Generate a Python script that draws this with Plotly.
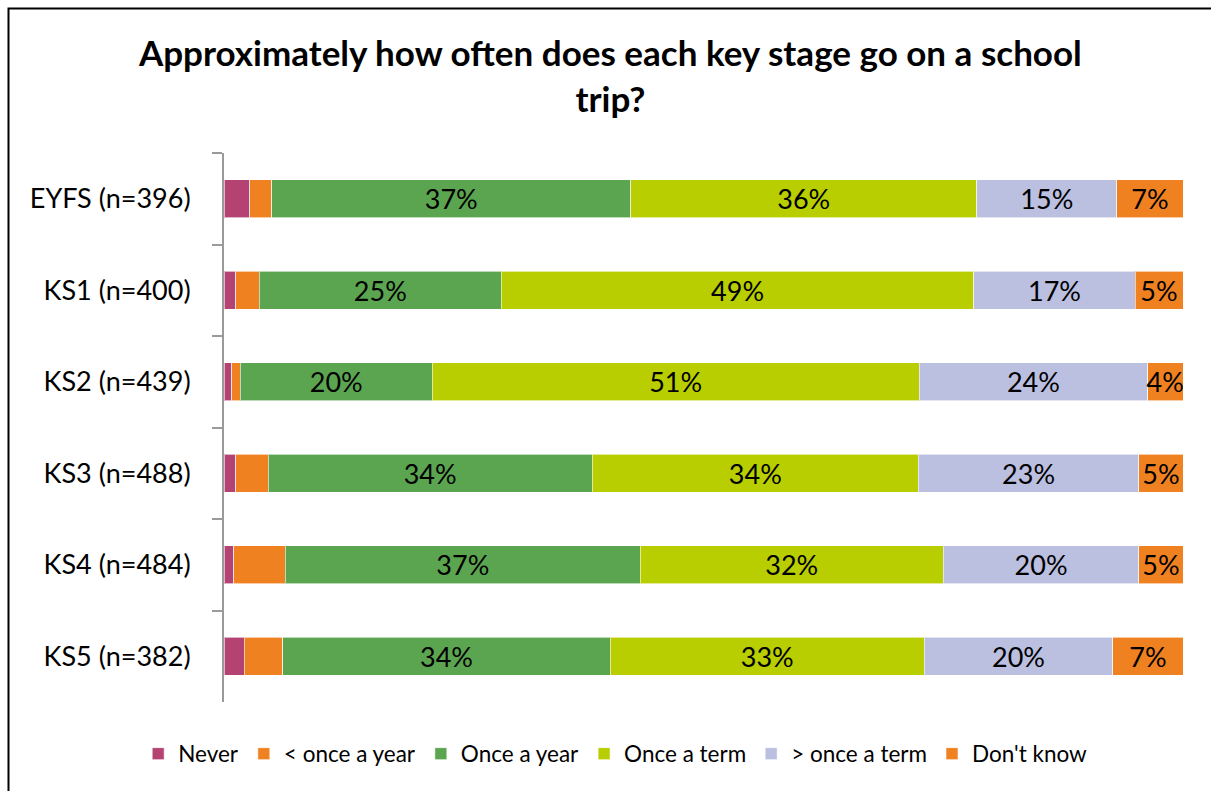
import plotly.graph_objects as go

categories = ["EYFS (n=396)", "KS1 (n=400)", "KS2 (n=439)", "KS3 (n=488)", "KS4 (n=484)", "KS5 (n=382)"]
series_names = ["Never", "< once a year", "Once a year", "Once a term", "> once a term", "Don't know"]
never = [2.7, 1.2, 0.8, 1.2, 1.0, 2.1]
less_once_year = [2.3, 2.5, 0.9, 3.4, 5.4, 4.0]
once_year = [37.4, 25.2, 20.0, 33.8, 37.0, 34.2]
once_term = [36.1, 49.3, 50.8, 34.0, 31.6, 32.7]
more_once_term = [14.6, 16.8, 23.8, 23.0, 20.4, 19.7]
dont_know = [6.9, 5.0, 3.7, 4.6, 4.6, 7.3]
show_labels = [False, False, True, True, True, True]

series_values = [never, less_once_year, once_year, once_term, more_once_term, dont_know]
colors = ["#B44373", "#F08120", "#5BA550", "#B8CE00", "#BBBFE0", "#F08120"]

FONT = "Lato"

fig = go.Figure()
for name, vals, col, lab in zip(series_names, series_values, colors, show_labels):
    fig.add_trace(go.Bar(
        y=categories, x=vals, name=name, orientation="h",
        marker=dict(color=col, line=dict(color="rgba(255,255,255,0.6)", width=1)),
        text=[f"{v:.0f}%" for v in vals] if lab else None,
        textposition="inside" if lab else "none",
        insidetextanchor="middle",
        textangle=0,
        textfont=dict(size=27, color="black", family=FONT),
        hoverinfo="x+y+name",
    ))

W, H = 1211, 791
L, R, T, B = 224, 1211 - 1183, 153, 791 - 702
pw, ph = W - L - R, H - T - B

fig.update_layout(
    barmode="stack",
    bargap=0.59,
    width=W, height=H,
    margin=dict(l=L, r=R, t=T, b=B, pad=0),
    paper_bgcolor="white", plot_bgcolor="white",
    font=dict(family=FONT, color="black"),
    uniformtext=dict(minsize=27, mode="show"),
    title=dict(
        text="<b>Approximately how often does each key stage go on a school<br>trip?</b>",
        x=0.504, xref="container", xanchor="center",
        y=1 - 66 / H, yref="container", yanchor="middle",
        font=dict(size=35, family=FONT, color="black"),
    ),
    xaxis=dict(range=[0, 100], visible=False, fixedrange=True),
    yaxis=dict(
        autorange="reversed",
        showline=True, linecolor="#9A9A9A", linewidth=2,
        ticks="outside", tickson="boundaries", ticklen=10, tickcolor="#9A9A9A", tickwidth=2,
        tickfont=dict(size=27, family=FONT, color="black"),
        ticklabelstandoff=26,
        showgrid=False,
    ),
    legend=dict(
        orientation="h",
        xref="container", x=0.508, xanchor="center",
        yref="container", y=37 / H, yanchor="middle",
        font=dict(size=22.5, family=FONT, color="black"),
        traceorder="normal",
        itemwidth=30,
    ),
    showlegend=True,
)

# outer chart border
fig.add_shape(
    type="rect", xref="paper", yref="paper",
    x0=(8.5 - L) / pw, x1=(W + 20 - L) / pw,
    y0=-(B + 20) / ph, y1=(H - 8.5 - B) / ph,
    line=dict(color="black", width=2), fillcolor="rgba(0,0,0,0)", layer="below",
)

fig.write_html("out.html")
